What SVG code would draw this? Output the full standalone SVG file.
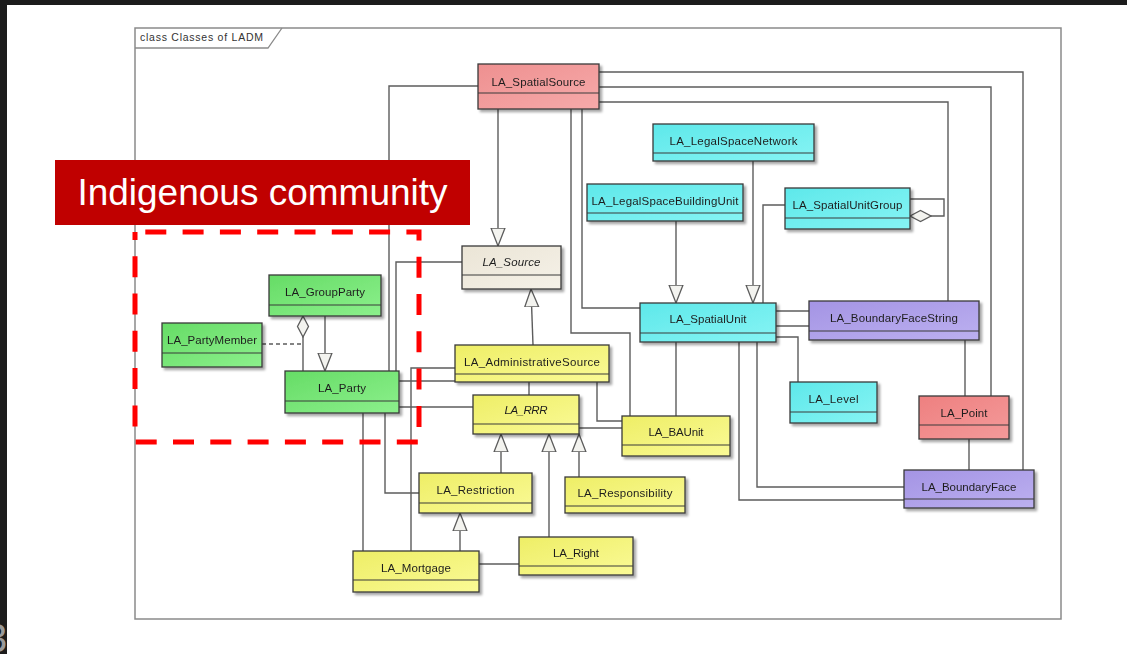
<svg xmlns="http://www.w3.org/2000/svg" width="1127" height="654" viewBox="0 0 1127 654">
  <defs>
    <style>
      .frame { fill: #ffffff; stroke: #8a8a8a; stroke-width: 1.5; }
      .tab { fill: none; stroke: #8a8a8a; stroke-width: 1.3; }
      .tabtxt { font-family: "Liberation Sans", Arial, sans-serif; font-size: 10.5px; fill: #333333; }
      .box { stroke: #3a3a3a; stroke-width: 1.3; }
      .sep { stroke: #3a3a3a; stroke-width: 1.2; }
      .lbl { font-family: "Liberation Sans", Arial, sans-serif; font-size: 11.5px; fill: #1e1e1e; text-anchor: middle; }
      .abs { font-style: italic; }
      .conn { fill: none; stroke: #5c5c5c; stroke-width: 1.4; }
      .gen { marker-end: url(#gen); }
      .agg { marker-start: url(#agg); }
      .dash { stroke-dasharray: 4 3; }
      .node { filter: url(#shadow); }
    </style>
    <filter id="shadow" x="-10%" y="-20%" width="130%" height="160%">
      <feDropShadow dx="2.5" dy="2.5" stdDeviation="1.2" flood-color="#000000" flood-opacity="0.35"/>
    </filter>
    <linearGradient id="pink" x1="0" y1="0" x2="1" y2="1">
      <stop offset="0" stop-color="#ee9090"/>
      <stop offset="1" stop-color="#f6aaaa"/>
    </linearGradient>
    <linearGradient id="salmon" x1="0" y1="0" x2="1" y2="1">
      <stop offset="0" stop-color="#ee8080"/>
      <stop offset="1" stop-color="#f49a9a"/>
    </linearGradient>
    <linearGradient id="cyan" x1="0" y1="0" x2="1" y2="1">
      <stop offset="0" stop-color="#5ee8ea"/>
      <stop offset="1" stop-color="#86f4f4"/>
    </linearGradient>
    <linearGradient id="purple" x1="0" y1="0" x2="1" y2="1">
      <stop offset="0" stop-color="#a494e4"/>
      <stop offset="1" stop-color="#bcb0f0"/>
    </linearGradient>
    <linearGradient id="yellow" x1="0" y1="0" x2="1" y2="1">
      <stop offset="0" stop-color="#eeee66"/>
      <stop offset="1" stop-color="#fafa96"/>
    </linearGradient>
    <linearGradient id="green" x1="0" y1="0" x2="1" y2="1">
      <stop offset="0" stop-color="#66dc66"/>
      <stop offset="1" stop-color="#8cf08c"/>
    </linearGradient>
    <linearGradient id="beige" x1="0" y1="0" x2="1" y2="1">
      <stop offset="0" stop-color="#ebe5d6"/>
      <stop offset="1" stop-color="#f5f1e8"/>
    </linearGradient>
    <!-- hollow generalization arrowhead -->
    <marker id="gen" markerUnits="userSpaceOnUse" markerWidth="19" markerHeight="16" viewBox="0 -8 19 16" refX="18" refY="0" orient="auto">
      <path d="M0,-7 L18,0 L0,7 Z" fill="#f3f3ef" stroke="#5c5c5c" stroke-width="1.3"/>
    </marker>
    <!-- hollow aggregation diamond -->
    <marker id="agg" markerUnits="userSpaceOnUse" markerWidth="23" markerHeight="14" viewBox="-1 -7 23 14" refX="0" refY="0" orient="auto">
      <path d="M0,0 L10.5,-5.5 L21,0 L10.5,5.5 Z" fill="#f3f3ef" stroke="#5c5c5c" stroke-width="1.3"/>
    </marker>
  </defs>

  <!-- page background and dark slide edges -->
  <rect x="0" y="0" width="1127" height="654" fill="#ffffff"/>
  <rect x="0" y="0" width="1127" height="5" fill="#1c1c1c"/>
  <rect x="0" y="0" width="7" height="654" fill="#1c1c1c"/>
  <text x="-15" y="652" font-family="Liberation Sans, Arial, sans-serif" font-size="40" fill="#9a9a9a">3</text>

  <!-- diagram frame -->
  <g id="frame">
    <rect class="frame" x="135" y="28" width="926" height="591"/>
    <polyline class="tab" points="135,48 268,48 282,28"/>
    <text class="tabtxt" x="140" y="41" textLength="123" lengthAdjust="spacing">class Classes of LADM</text>
  </g>

  <!-- connectors -->
  <g id="connectors">
    <!-- generalizations -->
    <polyline class="conn gen" points="498,109 498,246"/>
    <polyline class="conn gen" points="533,345 531,289"/>
    <polyline class="conn gen" points="676,221 676,303"/>
    <polyline class="conn gen" points="753,161 753,303"/>
    <polyline class="conn gen" points="325,316 325,371"/>
    <polyline class="conn gen" points="501,473 501,434"/>
    <polyline class="conn gen" points="549,537 549,434"/>
    <polyline class="conn gen" points="579,477 579,434"/>
    <polyline class="conn gen" points="460,551 460,513"/>

    <!-- aggregations -->
    <polyline class="conn agg" points="303,316 303,371"/>
    <polyline class="conn agg" points="910,216 944,216 944,199 910,199"/>
    <polyline class="conn dash" points="262,344 303,344"/>

    <!-- associations around LA_Party -->
    <polyline class="conn" points="389,371 389,86 478,86"/>
    <polyline class="conn" points="396,371 396,262 462,262"/>
    <polyline class="conn" points="399,381 455,381"/>
    <polyline class="conn" points="399,407 473,407"/>
    <polyline class="conn" points="385,413 385,493 419,493"/>
    <polyline class="conn" points="363,413 363,551"/>
    <polyline class="conn" points="455,368 411,368 411,551"/>

    <!-- administrative side -->
    <polyline class="conn" points="529,382 529,395"/>
    <polyline class="conn" points="597,382 597,421 622,421"/>
    <polyline class="conn" points="579,428 622,428"/>
    <polyline class="conn" points="479,564 519,564"/>

    <!-- spatial side -->
    <polyline class="conn" points="571,109 571,333 630,333 630,416"/>
    <polyline class="conn" points="582,109 582,308 640,308"/>
    <polyline class="conn" points="676,342 676,416"/>
    <polyline class="conn" points="785,205 763,205 763,303"/>
    <polyline class="conn" points="599,102 948,102 948,301"/>
    <polyline class="conn" points="599,87 991,87 991,396"/>
    <polyline class="conn" points="599,72 1023,72 1023,470"/>
    <polyline class="conn" points="776,311 809,311"/>
    <polyline class="conn" points="776,326 809,326"/>
    <polyline class="conn" points="776,337 798,337 798,382"/>
    <polyline class="conn" points="757,342 757,487 904,487"/>
    <polyline class="conn" points="739,342 739,500 904,500"/>
    <polyline class="conn" points="965,340 965,396"/>
    <polyline class="conn" points="969,439 969,470"/>
  </g>

  <!-- classes -->
  <g id="LA_SpatialSource" class="node">
    <rect class="box" x="478" y="64" width="121" height="45" fill="url(#pink)"/>
    <line class="sep" x1="478" y1="93" x2="599" y2="93"/>
    <text class="lbl" x="538.5" y="86" textLength="94" lengthAdjust="spacing">LA_SpatialSource</text>
  </g>
  <g id="LA_LegalSpaceNetwork" class="node">
    <rect class="box" x="653" y="124" width="161" height="37" fill="url(#cyan)"/>
    <line class="sep" x1="653" y1="153" x2="814" y2="153"/>
    <text class="lbl" x="733.5" y="145" textLength="128" lengthAdjust="spacing">LA_LegalSpaceNetwork</text>
  </g>
  <g id="LA_LegalSpaceBuildingUnit" class="node">
    <rect class="box" x="587" y="184" width="156" height="37" fill="url(#cyan)"/>
    <line class="sep" x1="587" y1="213" x2="743" y2="213"/>
    <text class="lbl" x="665" y="205" textLength="147" lengthAdjust="spacing">LA_LegalSpaceBuildingUnit</text>
  </g>
  <g id="LA_SpatialUnitGroup" class="node">
    <rect class="box" x="785" y="188" width="125" height="41" fill="url(#cyan)"/>
    <line class="sep" x1="785" y1="218" x2="910" y2="218"/>
    <text class="lbl" x="847.5" y="209" textLength="110" lengthAdjust="spacing">LA_SpatialUnitGroup</text>
  </g>
  <g id="LA_Source" class="node">
    <rect class="box" x="462" y="246" width="99" height="43" fill="url(#beige)"/>
    <line class="sep" x1="462" y1="275" x2="561" y2="275"/>
    <text class="lbl abs" x="511.5" y="266" textLength="58" lengthAdjust="spacing">LA_Source</text>
  </g>
  <g id="LA_SpatialUnit" class="node">
    <rect class="box" x="640" y="303" width="136" height="39" fill="url(#cyan)"/>
    <line class="sep" x1="640" y1="333" x2="776" y2="333"/>
    <text class="lbl" x="708" y="323" textLength="77" lengthAdjust="spacing">LA_SpatialUnit</text>
  </g>
  <g id="LA_BoundaryFaceString" class="node">
    <rect class="box" x="809" y="301" width="170" height="39" fill="url(#purple)"/>
    <line class="sep" x1="809" y1="331" x2="979" y2="331"/>
    <text class="lbl" x="894" y="322" textLength="128" lengthAdjust="spacing">LA_BoundaryFaceString</text>
  </g>
  <g id="LA_Level" class="node">
    <rect class="box" x="790" y="382" width="87" height="41" fill="url(#cyan)"/>
    <line class="sep" x1="790" y1="412" x2="877" y2="412"/>
    <text class="lbl" x="833.5" y="403" textLength="50" lengthAdjust="spacing">LA_Level</text>
  </g>
  <g id="LA_Point" class="node">
    <rect class="box" x="919" y="396" width="90" height="43" fill="url(#salmon)"/>
    <line class="sep" x1="919" y1="425" x2="1009" y2="425"/>
    <text class="lbl" x="964" y="417" textLength="47" lengthAdjust="spacing">LA_Point</text>
  </g>
  <g id="LA_BoundaryFace" class="node">
    <rect class="box" x="904" y="470" width="130" height="38" fill="url(#purple)"/>
    <line class="sep" x1="904" y1="499" x2="1034" y2="499"/>
    <text class="lbl" x="969" y="491" textLength="95" lengthAdjust="spacing">LA_BoundaryFace</text>
  </g>
  <g id="LA_BAUnit" class="node">
    <rect class="box" x="622" y="416" width="108" height="40" fill="url(#yellow)"/>
    <line class="sep" x1="622" y1="445" x2="730" y2="445"/>
    <text class="lbl" x="676" y="436" textLength="55" lengthAdjust="spacing">LA_BAUnit</text>
  </g>
  <g id="LA_RRR" class="node">
    <rect class="box" x="473" y="395" width="106" height="39" fill="url(#yellow)"/>
    <line class="sep" x1="473" y1="424" x2="579" y2="424"/>
    <text class="lbl abs" x="526" y="414" textLength="43" lengthAdjust="spacing">LA_RRR</text>
  </g>
  <g id="LA_AdministrativeSource" class="node">
    <rect class="box" x="455" y="345" width="154" height="37" fill="url(#yellow)"/>
    <line class="sep" x1="455" y1="374" x2="609" y2="374"/>
    <text class="lbl" x="532" y="366" textLength="136" lengthAdjust="spacing">LA_AdministrativeSource</text>
  </g>
  <g id="LA_Party" class="node">
    <rect class="box" x="285" y="371" width="114" height="42" fill="url(#green)"/>
    <line class="sep" x1="285" y1="401" x2="399" y2="401"/>
    <text class="lbl" x="342" y="392" textLength="48" lengthAdjust="spacing">LA_Party</text>
  </g>
  <g id="LA_GroupParty" class="node">
    <rect class="box" x="269" y="275" width="112" height="41" fill="url(#green)"/>
    <line class="sep" x1="269" y1="305" x2="381" y2="305"/>
    <text class="lbl" x="325" y="296" textLength="80" lengthAdjust="spacing">LA_GroupParty</text>
  </g>
  <g id="LA_PartyMember" class="node">
    <rect class="box" x="162" y="323" width="100" height="44" fill="url(#green)"/>
    <line class="sep" x1="162" y1="353" x2="262" y2="353"/>
    <text class="lbl" x="212" y="344" textLength="90" lengthAdjust="spacing">LA_PartyMember</text>
  </g>
  <g id="LA_Restriction" class="node">
    <rect class="box" x="419" y="473" width="113" height="40" fill="url(#yellow)"/>
    <line class="sep" x1="419" y1="503" x2="532" y2="503"/>
    <text class="lbl" x="475.5" y="494" textLength="78" lengthAdjust="spacing">LA_Restriction</text>
  </g>
  <g id="LA_Responsibility" class="node">
    <rect class="box" x="565" y="477" width="120" height="36" fill="url(#yellow)"/>
    <line class="sep" x1="565" y1="506" x2="685" y2="506"/>
    <text class="lbl" x="625" y="497" textLength="95" lengthAdjust="spacing">LA_Responsibility</text>
  </g>
  <g id="LA_Right" class="node">
    <rect class="box" x="519" y="537" width="114" height="38" fill="url(#yellow)"/>
    <line class="sep" x1="519" y1="566" x2="633" y2="566"/>
    <text class="lbl" x="576" y="557" textLength="46" lengthAdjust="spacing">LA_Right</text>
  </g>
  <g id="LA_Mortgage" class="node">
    <rect class="box" x="353" y="551" width="126" height="41" fill="url(#yellow)"/>
    <line class="sep" x1="353" y1="580" x2="479" y2="580"/>
    <text class="lbl" x="416" y="572" textLength="70" lengthAdjust="spacing">LA_Mortgage</text>
  </g>

  <!-- highlight callout -->
  <g id="callout">
    <rect x="55" y="160" width="415" height="65" fill="#c00000"/>
    <text x="262.5" y="205" font-family="Liberation Sans, Arial, sans-serif" font-size="37" fill="#ffffff" text-anchor="middle">Indigenous community</text>
  </g>
  <g id="highlight">
    <path d="M135,232 H419 V442 H135 Z" fill="none" stroke="#ff0000" stroke-width="5" stroke-dasharray="21 16.3" stroke-dashoffset="27"/>
  </g>
</svg>
